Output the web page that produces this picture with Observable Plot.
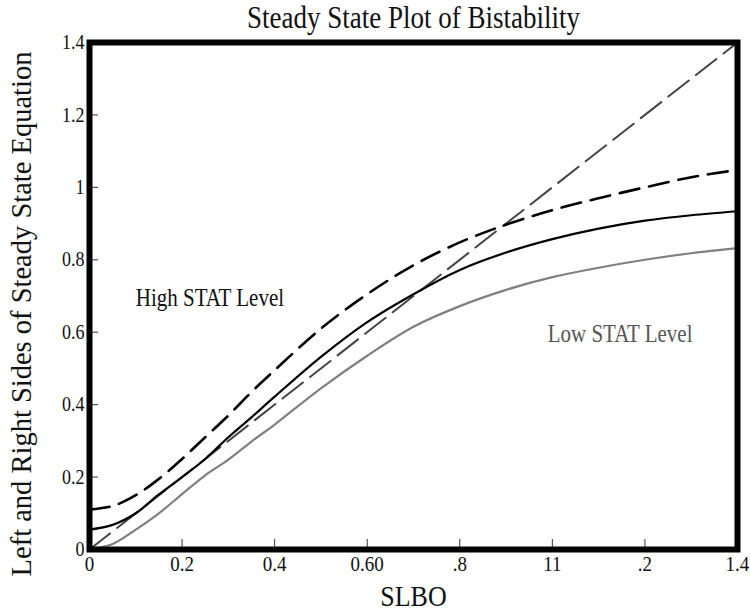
<!DOCTYPE html>
<html><head><meta charset="utf-8">
<script src="https://cdn.jsdelivr.net/npm/d3@7"></script>
<script src="https://cdn.jsdelivr.net/npm/@observablehq/plot@0.6"></script>
<style>body{margin:0;background:#fff;} svg, svg text, svg g{font-family:'Liberation Serif','Times New Roman',serif !important;}</style>
</head><body><div id="chart"></div>
<script>
const title = "Steady State Plot of Bistability";
const xLabel = "SLBO";
const yLabel = "Left and Right Sides of Steady State Equation";
const xTicks = [0, 0.2, 0.4, 0.6, 0.8, 1.0, 1.2, 1.4];
const xTickLabels = ["0", "0.2", "0.4", "0.60", ".8", "11", ".2", "1.4"];
const yTicks = [0, 0.2, 0.4, 0.6, 0.8, 1.0, 1.2, 1.4];
const yTickLabels = ["0", "0.2", "0.4", "0.6", "0.8", "1", "1.2", "1.4"];

const xs = [0, 0.05, 0.1, 0.15, 0.2, 0.25, 0.3, 0.35, 0.4, 0.5, 0.6, 0.7, 0.8, 0.9, 1.0, 1.1, 1.2, 1.3, 1.4];
const highY = [0.11, 0.12, 0.15, 0.195, 0.25, 0.31, 0.37, 0.435, 0.495, 0.61, 0.705, 0.785, 0.848, 0.897, 0.937, 0.97, 1.0, 1.028, 1.048];
const midY  = [0.055, 0.068, 0.1, 0.152, 0.2, 0.25, 0.31, 0.365, 0.422, 0.532, 0.628, 0.705, 0.772, 0.82, 0.857, 0.886, 0.908, 0.923, 0.934];
const lowY  = [0, 0.015, 0.055, 0.1, 0.153, 0.205, 0.248, 0.298, 0.345, 0.445, 0.535, 0.615, 0.672, 0.717, 0.752, 0.778, 0.8, 0.818, 0.832];
const diagX = [0, 1.4];
const diagY = [0, 1.4];

const labels = [
  {text: "High STAT Level", x: 0.1, y: 0.695, color: "#111"},
  {text: "Low STAT Level", x: 0.99, y: 0.595, color: "#555"}
];

const W = 750, H = 612, mL = 89, mR = 13, mT = 42, mB = 63;
const innerW = W - mL - mR, innerH = H - mT - mB;
const font = "'Liberation Serif', 'Times New Roman', serif";

const pts = ys => xs.map((x, i) => ({x, y: ys[i]}));
const diag = diagX.map((x, i) => ({x, y: diagY[i]}));

const chart = Plot.plot({
  width: W, height: H,
  marginLeft: mL, marginRight: mR, marginTop: mT, marginBottom: mB,
  style: {fontFamily: font, background: "#fff", color: "#000"},
  x: {domain: [0, 1.4], axis: null},
  y: {domain: [0, 1.4], axis: null},
  marks: [
    Plot.ruleX(xTicks, {stroke: "#333", strokeWidth: 1, insetTop: innerH - 10}),
    Plot.ruleY(yTicks, {stroke: "#333", strokeWidth: 1, insetRight: innerW - 9}),
    Plot.line(diag, {x: "x", y: "y", stroke: "#444", strokeWidth: 2, strokeDasharray: "26,9"}),
    Plot.line(pts(lowY), {x: "x", y: "y", stroke: "#808080", strokeWidth: 2.2, curve: "catmull-rom"}),
    Plot.line(pts(midY), {x: "x", y: "y", stroke: "#000", strokeWidth: 2.2, curve: "catmull-rom"}),
    Plot.line(pts(highY), {x: "x", y: "y", stroke: "#000", strokeWidth: 2.6, strokeDasharray: "20,10", curve: "catmull-rom"}),
    Plot.frame({stroke: "#000", strokeWidth: 6}),
    Plot.text(xTicks, {x: d => d, text: (d, i) => xTickLabels[i], frameAnchor: "bottom", textAnchor: "middle", lineAnchor: "middle", dy: 14, fontSize: 19, fontFamily: font, fill: "#111"}),
    Plot.text(yTicks, {y: d => d, text: (d, i) => yTickLabels[i], frameAnchor: "left", textAnchor: "end", lineAnchor: "middle", dx: -5, fontSize: 18, fontFamily: font, fill: "#111"}),
    Plot.text(labels, {x: "x", y: "y", text: "text", fill: "color", textAnchor: "start", fontSize: 21, fontFamily: font}),
    Plot.text([title], {frameAnchor: "top", textAnchor: "middle", lineAnchor: "middle", dy: -24, fontSize: 27, fontFamily: font, fill: "#111"}),
    Plot.text([xLabel], {frameAnchor: "bottom", textAnchor: "middle", lineAnchor: "middle", dy: 47, fontSize: 26, fontFamily: font, fill: "#111"}),
    Plot.text([yLabel], {frameAnchor: "left", textAnchor: "middle", lineAnchor: "middle", dx: -68, dy: 18, rotate: -90, fontSize: 28.5, fontFamily: font, fill: "#111"})
  ]
});
// the reference's horizontal lettering is drawn slightly taller than wide
chart.querySelectorAll("text").forEach(t => {
  const tr = t.getAttribute("transform") || "";
  if (!tr.includes("rotate")) t.setAttribute("transform", tr + " scale(1,1.15)");
});
document.getElementById("chart").appendChild(chart);
</script>
</body></html>
